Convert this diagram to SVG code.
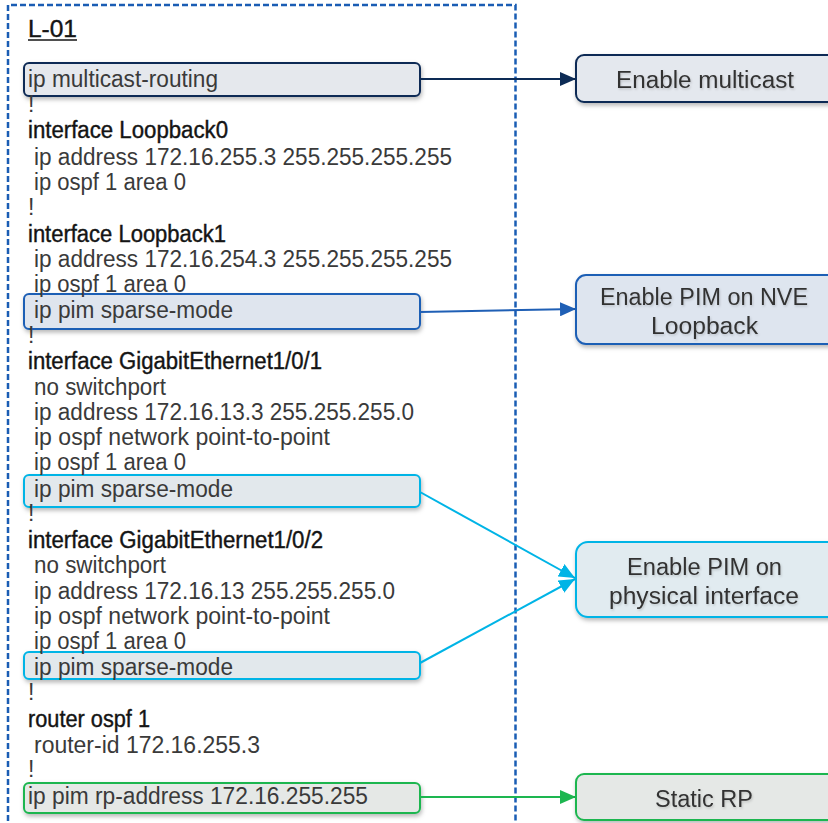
<svg xmlns="http://www.w3.org/2000/svg" width="828" height="823" viewBox="0 0 828 823">
<style>
.t{font-family:"Liberation Sans",Arial,sans-serif;font-size:23px;fill:#3a3a3a}
.h{fill:#141414;stroke:#141414;stroke-width:0.4}
.r{font-family:"Liberation Sans",Arial,sans-serif;font-size:23px;fill:#333;text-anchor:middle}
.hb{stroke-width:2}
.rb{stroke-width:2}
.c{fill:none;stroke-width:2}
</style>
<defs>
<filter id="sh" x="-10%" y="-30%" width="120%" height="170%">
<feDropShadow dx="1" dy="2.5" stdDeviation="2" flood-color="#000" flood-opacity="0.28"/>
</filter>
<filter id="tsh" x="-10%" y="-30%" width="120%" height="170%">
<feDropShadow dx="1" dy="1.5" stdDeviation="1.2" flood-color="#000" flood-opacity="0.16"/>
</filter>
<marker id="mNavy" markerWidth="16" markerHeight="14" refX="16" refY="7" orient="auto" markerUnits="userSpaceOnUse"><path d="M0,0 L16,7 L0,14 Z" fill="#0d2b55"/></marker>
<marker id="mBlue" markerWidth="16" markerHeight="14" refX="16" refY="7" orient="auto" markerUnits="userSpaceOnUse"><path d="M0,0 L16,7 L0,14 Z" fill="#1f5fb5"/></marker>
<marker id="mCyan" markerWidth="16" markerHeight="14" refX="16" refY="7" orient="auto" markerUnits="userSpaceOnUse"><path d="M0,0 L16,7 L0,14 Z" fill="#00b4e6"/></marker>
<marker id="mGreen" markerWidth="16" markerHeight="14" refX="16" refY="7" orient="auto" markerUnits="userSpaceOnUse"><path d="M0,0 L16,7 L0,14 Z" fill="#1db650"/></marker>
</defs>
<rect width="828" height="823" fill="#fff"/>

<g id="container">
<path d="M8,830 L8,5 L515.5,5 L515.5,830" fill="none" stroke="#1a5db4" stroke-width="2.5" stroke-dasharray="6,3"/>
</g>

<g id="highlights">
<rect id="hl-multicast" class="hb" x="24" y="63" width="396" height="33" rx="5" fill="#e5e8ed" stroke="#0d2b55" filter="url(#sh)"/>
<rect id="hl-pim-lo1" class="hb" x="24" y="294" width="396" height="35" rx="5" fill="#dfe5ee" stroke="#1f5fb5" filter="url(#sh)"/>
<rect id="hl-pim-gi1" class="hb" x="24" y="475" width="396" height="32" rx="5" fill="#e2e8ec" stroke="#00b4e6" filter="url(#sh)"/>
<rect id="hl-pim-gi2" class="hb" x="24" y="652" width="396" height="27" rx="5" fill="#e2e8ec" stroke="#00b4e6" filter="url(#sh)"/>
<rect id="hl-rp" class="hb" x="24" y="783" width="396" height="30" rx="5" fill="#e5e8e6" stroke="#1db650" filter="url(#sh)"/>
</g>

<g id="config">
<text class="t h" x="28" y="37" textLength="49" lengthAdjust="spacingAndGlyphs">L-01</text>
<line x1="28" y1="40" x2="77" y2="40" stroke="#141414" stroke-width="1.5"/>
<text class="t" x="28" y="87" textLength="190" lengthAdjust="spacingAndGlyphs">ip multicast-routing</text>
<text class="t" x="28" y="112">!</text>
<text class="t h" x="28" y="138" textLength="200" lengthAdjust="spacingAndGlyphs">interface Loopback0</text>
<text class="t" x="34" y="165" textLength="418" lengthAdjust="spacingAndGlyphs">ip address 172.16.255.3 255.255.255.255</text>
<text class="t" x="34" y="190" textLength="152" lengthAdjust="spacingAndGlyphs">ip ospf 1 area 0</text>
<text class="t" x="28" y="215">!</text>
<text class="t h" x="28" y="242" textLength="198" lengthAdjust="spacingAndGlyphs">interface Loopback1</text>
<text class="t" x="34" y="267" textLength="418" lengthAdjust="spacingAndGlyphs">ip address 172.16.254.3 255.255.255.255</text>
<text class="t" x="34" y="292" textLength="152" lengthAdjust="spacingAndGlyphs">ip ospf 1 area 0</text>
<text class="t" x="34" y="318" textLength="199" lengthAdjust="spacingAndGlyphs">ip pim sparse-mode</text>
<text class="t" x="28" y="343">!</text>
<text class="t h" x="28" y="369" textLength="294" lengthAdjust="spacingAndGlyphs">interface GigabitEthernet1/0/1</text>
<text class="t" x="34" y="395" textLength="132" lengthAdjust="spacingAndGlyphs">no switchport</text>
<text class="t" x="34" y="420" textLength="380" lengthAdjust="spacingAndGlyphs">ip address 172.16.13.3 255.255.255.0</text>
<text class="t" x="34" y="445" textLength="296" lengthAdjust="spacingAndGlyphs">ip ospf network point-to-point</text>
<text class="t" x="34" y="470" textLength="152" lengthAdjust="spacingAndGlyphs">ip ospf 1 area 0</text>
<text class="t" x="34" y="497" textLength="199" lengthAdjust="spacingAndGlyphs">ip pim sparse-mode</text>
<text class="t" x="28" y="521">!</text>
<text class="t h" x="28" y="548" textLength="295" lengthAdjust="spacingAndGlyphs">interface GigabitEthernet1/0/2</text>
<text class="t" x="34" y="573" textLength="132" lengthAdjust="spacingAndGlyphs">no switchport</text>
<text class="t" x="34" y="599" textLength="361" lengthAdjust="spacingAndGlyphs">ip address 172.16.13 255.255.255.0</text>
<text class="t" x="34" y="624" textLength="296" lengthAdjust="spacingAndGlyphs">ip ospf network point-to-point</text>
<text class="t" x="34" y="649" textLength="152" lengthAdjust="spacingAndGlyphs">ip ospf 1 area 0</text>
<text class="t" x="34" y="675" textLength="199" lengthAdjust="spacingAndGlyphs">ip pim sparse-mode</text>
<text class="t" x="28" y="700">!</text>
<text class="t h" x="28" y="727" textLength="122" lengthAdjust="spacingAndGlyphs">router ospf 1</text>
<text class="t" x="34" y="753" textLength="226" lengthAdjust="spacingAndGlyphs">router-id 172.16.255.3</text>
<text class="t" x="28" y="777">!</text>
<text class="t" x="28" y="804" textLength="340" lengthAdjust="spacingAndGlyphs">ip pim rp-address 172.16.255.255</text>
</g>

<g id="connectors">
<line class="c" x1="420" y1="79" x2="576" y2="79" stroke="#0d2b55" marker-end="url(#mNavy)"/>
<line class="c" x1="420" y1="312" x2="576" y2="309" stroke="#1f5fb5" marker-end="url(#mBlue)"/>
<line class="c" x1="420" y1="492" x2="575" y2="578" stroke="#00b4e6" marker-end="url(#mCyan)"/>
<line class="c" x1="420" y1="663" x2="575" y2="579" stroke="#00b4e6" marker-end="url(#mCyan)"/>
<line class="c" x1="420" y1="797" x2="576" y2="797" stroke="#1db650" marker-end="url(#mGreen)"/>
</g>

<g id="node-enable-multicast">
<rect class="rb" x="576" y="55" width="270" height="47" rx="8" fill="#e4e8ee" stroke="#0d2b55" filter="url(#sh)"/>
<text class="r" x="705" y="88" textLength="178" lengthAdjust="spacingAndGlyphs" filter="url(#tsh)">Enable multicast</text>
</g>

<g id="node-pim-nve">
<rect class="rb" x="576" y="275" width="270" height="69" rx="10" fill="#dee5ef" stroke="#1f5fb5" filter="url(#sh)"/>
<text class="r" x="704" y="305" textLength="208" lengthAdjust="spacingAndGlyphs" filter="url(#tsh)">Enable PIM on NVE</text>
<text class="r" x="704.5" y="334" textLength="107" lengthAdjust="spacingAndGlyphs" filter="url(#tsh)">Loopback</text>
</g>

<g id="node-pim-physical">
<rect class="rb" x="576" y="542" width="270" height="75" rx="12" fill="#e1ebf0" stroke="#00b4e6" filter="url(#sh)"/>
<text class="r" x="704.5" y="575" textLength="155" lengthAdjust="spacingAndGlyphs" filter="url(#tsh)">Enable PIM on</text>
<text class="r" x="704" y="604" textLength="190" lengthAdjust="spacingAndGlyphs" filter="url(#tsh)">physical interface</text>
</g>

<g id="node-static-rp">
<rect class="rb" x="576" y="774" width="270" height="46" rx="8" fill="#e5e8e6" stroke="#1db650" filter="url(#sh)"/>
<text class="r" x="704" y="807" textLength="98" lengthAdjust="spacingAndGlyphs" filter="url(#tsh)">Static RP</text>
</g>
</svg>
